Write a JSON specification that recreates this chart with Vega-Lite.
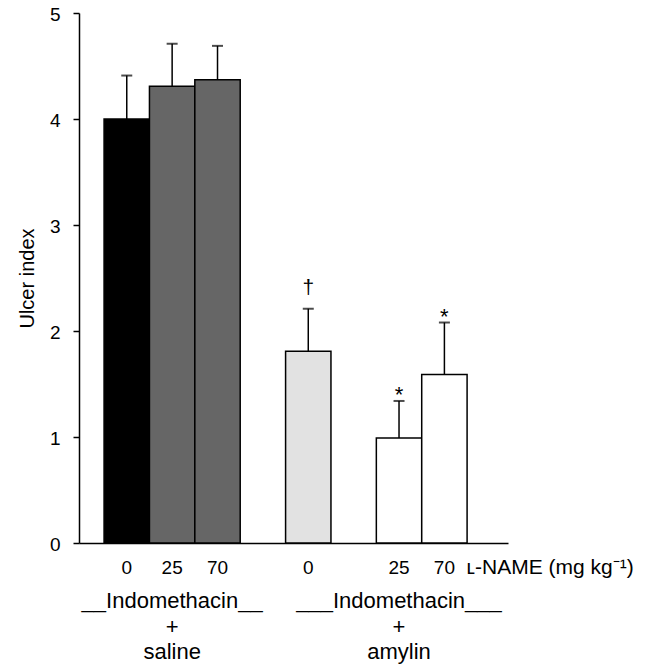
{
  "$schema": "https://vega.github.io/schema/vega-lite/v6.json",
  "width": 429,
  "height": 530,
  "autosize": {"type": "none"},
  "padding": {"left": 79, "top": 13, "right": 151, "bottom": 123},
  "background": "white",
  "config": {
    "font": "Liberation Sans",
    "view": {"stroke": null},
    "axis": {"domainColor": "black", "tickColor": "black", "labelColor": "black", "titleColor": "black", "grid": false, "domainWidth": 1.5, "tickWidth": 1.5, "titleFontWeight": "normal"}
  },
  "datasets": {
    "bars": [
      {"cat": "saline 0", "pattern": "solid", "mean": 4.0, "top": 4.41, "sig": ""},
      {"cat": "saline 25", "pattern": "crosshatch", "mean": 4.31, "top": 4.71, "sig": ""},
      {"cat": "saline 70", "pattern": "crosshatch", "mean": 4.37, "top": 4.69, "sig": ""},
      {"cat": "amylin 0", "pattern": "stipple", "mean": 1.81, "top": 2.21, "sig": "†"},
      {"cat": "amylin 25", "pattern": "open", "mean": 0.99, "top": 1.34, "sig": "*"},
      {"cat": "amylin 70", "pattern": "open", "mean": 1.59, "top": 2.08, "sig": "*"}
    ],
    "groups": [
      {"cat": "saline 25", "label": "__Indomethacin__\n+\nsaline"},
      {"cat": "amylin 25", "label": "___Indomethacin___\n+\namylin"}
    ]
  },
  "encoding": {
    "x": {
      "field": "cat",
      "type": "nominal",
      "sort": null,
      "scale": {
        "domain": ["saline 0", "saline 25", "saline 70", "gap A", "amylin 0", "gap B", "amylin 25", "amylin 70"],
        "paddingInner": 0,
        "paddingOuter": 0.727,
        "align": 0.38
      },
      "axis": {
        "labelExpr": "indexof(datum.value, 'gap') >= 0 ? '' : split(datum.value, ' ')[1]",
        "labelAngle": 0,
        "ticks": false,
        "tickSize": 0,
        "labelPadding": 30,
        "labelBaseline": "alphabetic",
        "labelFontSize": 19,
        "title": "ʟ-NAME (mg kg⁻¹)",
        "titleFontSize": 21,
        "titleX": 387,
        "titleY": 30,
        "titleAlign": "left",
        "titleBaseline": "alphabetic"
      }
    }
  },
  "layer": [
    {
      "data": {"name": "bars"},
      "mark": {"type": "bar", "stroke": "black", "strokeWidth": 1.5},
      "encoding": {
        "y": {
          "field": "mean",
          "type": "quantitative",
          "scale": {"domain": [0, 5], "nice": false},
          "axis": {
            "values": [0, 1, 2, 3, 4, 5],
            "format": "d",
            "tickSize": 6,
            "labelPadding": 13,
            "labelFontSize": 19,
            "labelOffset": 1,
            "title": "Ulcer index",
            "titleFontSize": 20,
            "titleX": -46,
            "titleBaseline": "alphabetic"
          }
        },
        "fill": {
          "field": "pattern",
          "type": "nominal",
          "scale": {"domain": ["solid", "crosshatch", "stipple", "open"], "range": ["#000000", "#666666", "#e2e2e2", "#ffffff"]},
          "legend": null
        }
      }
    },
    {
      "data": {"name": "bars"},
      "mark": {"type": "rule", "color": "black", "strokeWidth": 1.5},
      "encoding": {
        "y": {"field": "mean", "type": "quantitative"},
        "y2": {"field": "top"}
      }
    },
    {
      "data": {"name": "bars"},
      "mark": {"type": "tick", "color": "black", "size": 11, "thickness": 2},
      "encoding": {
        "y": {"field": "top", "type": "quantitative"}
      }
    },
    {
      "data": {"name": "bars"},
      "transform": [{"filter": "datum.sig == '†'"}],
      "mark": {"type": "text", "fontSize": 21, "baseline": "alphabetic", "dy": -15, "color": "black"},
      "encoding": {
        "y": {"field": "top", "type": "quantitative"},
        "text": {"field": "sig"}
      }
    },
    {
      "data": {"name": "bars"},
      "transform": [{"filter": "datum.sig == '*'"}],
      "mark": {"type": "text", "fontSize": 22, "baseline": "alphabetic", "dy": 1, "color": "black"},
      "encoding": {
        "y": {"field": "top", "type": "quantitative"},
        "text": {"field": "sig"}
      }
    },
    {
      "data": {"name": "groups"},
      "mark": {"type": "text", "fontSize": 22, "baseline": "alphabetic", "lineBreak": "\n", "lineHeight": 25.5, "dy": 65, "color": "black"},
      "encoding": {
        "y": {"datum": 0, "type": "quantitative"},
        "text": {"field": "label"}
      }
    }
  ]
}
